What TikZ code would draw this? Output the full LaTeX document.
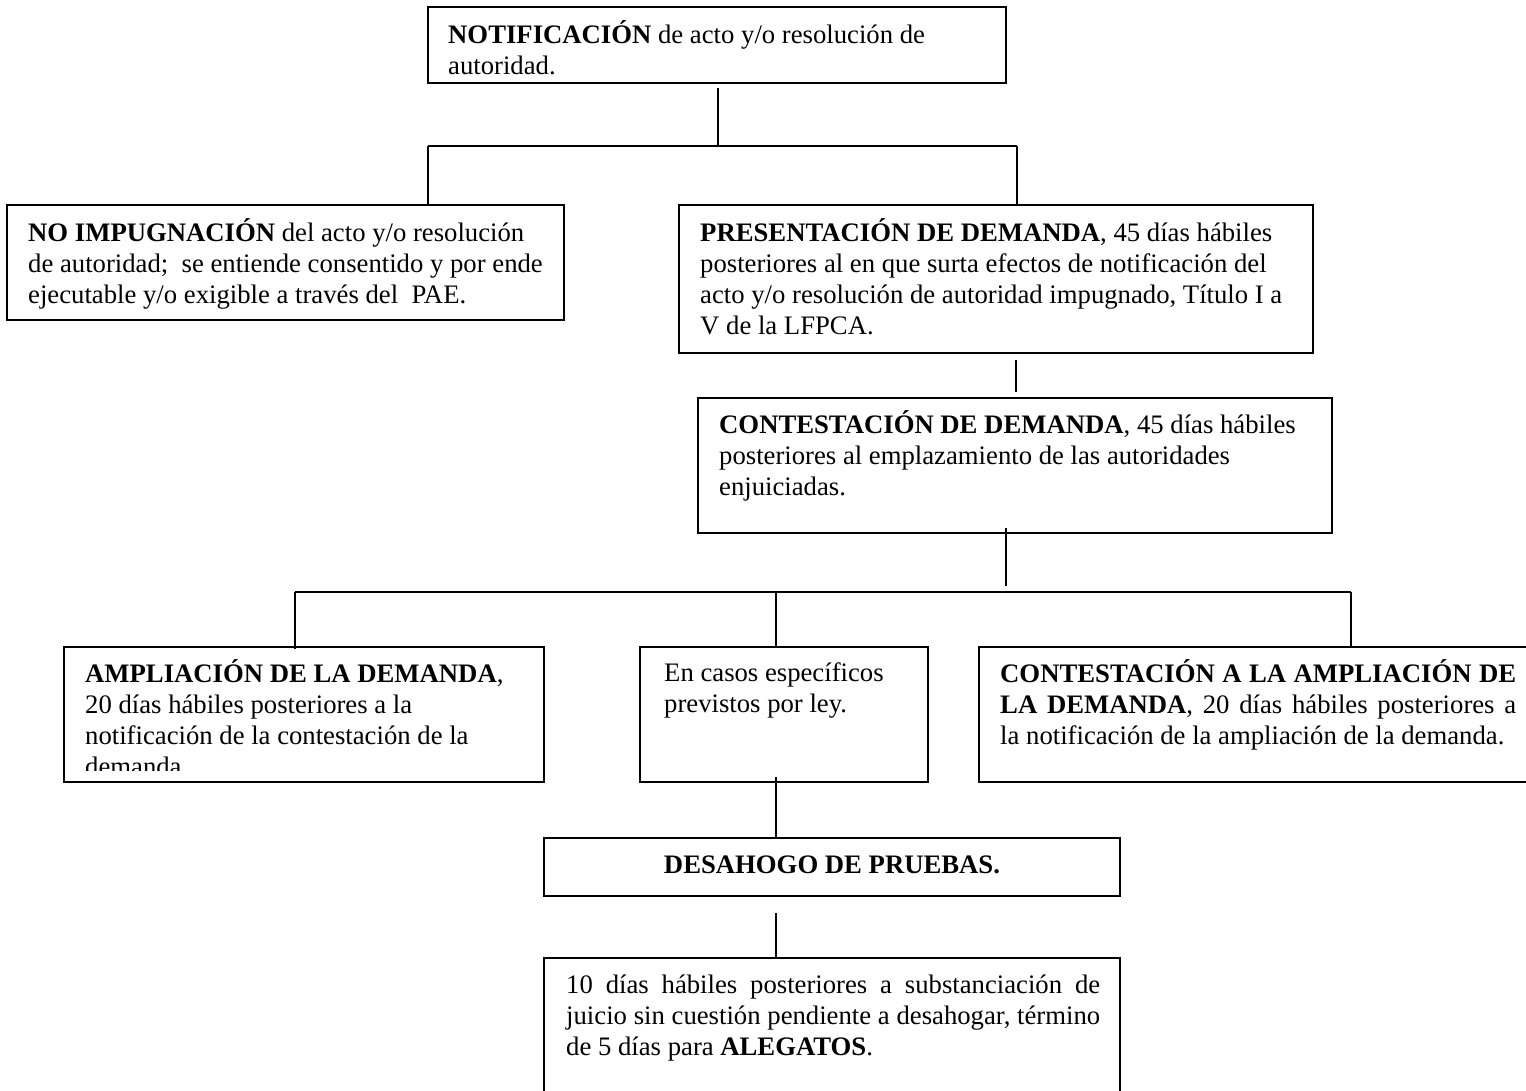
\documentclass[tikz,border=0pt]{standalone}
\usepackage{fontspec}
\setmainfont{Liberation Serif}
\usetikzlibrary{calc}
\begin{document}
\begin{tikzpicture}[x=1pt,y=-1pt,
  box/.style={draw, line width=1.8pt, inner sep=0pt, fill=white},
  conn/.style={line width=1.5pt},
  txt/.style={anchor=north west, inner sep=0pt, align=left, font=\fontsize{26.7}{31}\selectfont},
]
\useasboundingbox (0,0) rectangle (1526,1091);
\fill[white] (0,0) rectangle (1526,1091);

% boxes
\node[box, minimum width=578pt, minimum height=76pt]  (b1) at (717,45) {};
\node[box, minimum width=557pt, minimum height=115pt] (b2) at (285.5,262.5) {};
\node[box, minimum width=634pt, minimum height=148pt] (b3) at (996,279) {};
\node[box, minimum width=634pt, minimum height=135pt] (b4) at (1015,465.5) {};
\node[box, minimum width=480pt, minimum height=135pt] (b5) at (304,714.5) {};
\node[box, minimum width=288pt, minimum height=135pt] (b6) at (784,714.5) {};
\node[box, minimum width=561pt, minimum height=135pt] (b7) at (1259.5,714.5) {};
\node[box, minimum width=576pt, minimum height=58pt]  (b8) at (832,867) {};
\node[box, minimum width=576pt, minimum height=152pt] (b9) at (832,1034) {};

% connectors
\coordinate (hL) at (428,146);
\coordinate (hC) at (718,146);
\coordinate (hR) at (1017,146);
\draw[conn] ($(b1.south)+(1,4)$) -- (hC);
\draw[conn] (hL) -- (hR);
\draw[conn] (hL) -- (hL |- b2.north);
\draw[conn] (hR) -- (hR |- b3.north);
\draw[conn] ($(b3.south)+(20,6)$) -- ($(b4.north)+(1,-5)$);
\draw[conn] ($(b4.south)+(-9,-6)$) -- ($(b4.south)+(-9,52)$);
\coordinate (kL) at (295,592);
\coordinate (kM) at (776,592);
\coordinate (kR) at (1351,592);
\draw[conn] (kL) -- (kR);
\draw[conn] (kL) -- ($(kL |- b5.north)+(0,3)$);
\draw[conn] (kM) -- (kM |- b6.north);
\draw[conn] (kR) -- (kR |- b7.north);
\draw[conn] ($(b6.south)+(-8,-6)$) -- ($(b8.north)+(-56,0)$);
\draw[conn] ($(b8.south)+(-56,16)$) -- ($(b9.north)+(-56,2)$);

% texts
\node[txt] (t1) at (448,20.3) {\strut\textbf{NOTIFICACIÓN} de acto y/o resolución de\\\strut autoridad.};
\node[txt] (t2) at (28,218.3) {\strut\textbf{NO IMPUGNACIÓN} del acto y/o resolución\\\strut de autoridad;\ \ se entiende consentido y por ende\\\strut ejecutable y/o exigible a través del\ \ PAE.};
\node[txt] (t3) at (700,218.3) {\strut\textbf{PRESENTACIÓN DE DEMANDA}, 45 días hábiles\\\strut posteriores al en que surta efectos de notificación del\\\strut acto y/o resolución de autoridad impugnado, Título I a\\\strut V de la LFPCA.};
\node[txt] (t4) at (719,410.3) {\strut\textbf{CONTESTACIÓN DE DEMANDA}, 45 días hábiles\\\strut posteriores al emplazamiento de las autoridades\\\strut enjuiciadas.};
\begin{scope}
\clip (64,647) rectangle (544,770);
\node[txt] (t5) at (85,659.3) {\strut\textbf{AMPLIACIÓN DE LA DEMANDA},\\\strut 20 días hábiles posteriores a la\\\strut notificación de la contestación de la\\\strut demanda};
\end{scope}
\node[txt] (t6) at (664,659.3) {\strut En casos específicos\\\strut previstos por ley.};
\node[txt] (t7) at (1000,659.3) {\strut\makebox[516pt][s]{\textbf{CONTESTACIÓN A LA AMPLIACIÓN DE}}\\\strut\makebox[516pt][s]{\textbf{LA DEMANDA}, 20 días hábiles posteriores a}\\\strut la notificación de la ampliación de la demanda.};
\node[anchor=base, inner sep=0pt, font=\fontsize{26.7}{31}\selectfont] (t8) at (832,873) {\textbf{DESAHOGO DE PRUEBAS.}};
\node[txt] (t9) at (566,971.3) {\strut\makebox[534pt][s]{10 días hábiles posteriores a substanciación de}\\\strut\makebox[534pt][s]{juicio sin cuestión pendiente a desahogar, término}\\\strut de 5 días para \textbf{ALEGATOS}.};
\end{tikzpicture}
\end{document}
